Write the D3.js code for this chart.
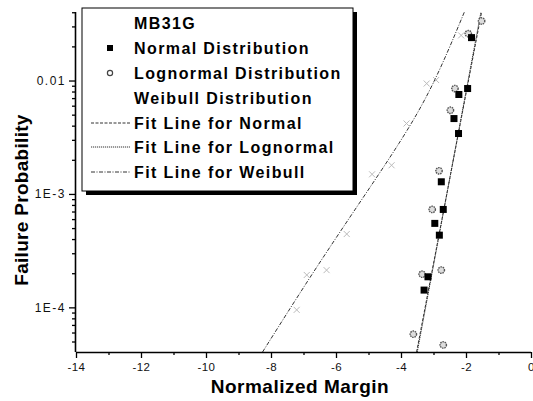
<!DOCTYPE html>
<html><head><meta charset="utf-8">
<script src="https://cdn.jsdelivr.net/npm/d3@7/dist/d3.min.js"></script>
<style>
html,body{margin:0;padding:0;background:#fff;}
svg{display:block;font-family:"Liberation Sans",Arial,sans-serif;}
</style></head>
<body><svg id="chart" width="533" height="401"></svg>
<script>
// ---- data ----
const chartTitle = "MB31G";
const xTicks = [-14, -12, -10, -8, -6, -4, -2, 0];
const xMinorTicks = [-13, -11, -9, -7, -5, -3, -1];
const yTicks = [1e-4, 1e-3, 1e-2];
const yTickLabels = ["1E-4", "1E-3", "0.01"];
const legendLabels = ["Normal Distribution", "Lognormal Distribution", "Weibull Distribution",
  "Fit Line for Normal", "Fit Line for Lognormal", "Fit Line for Weibull"];

// Normal distribution points [margin, failure probability]
const normalX = [-1.83, -1.95, -2.22, -2.37, -2.23, -2.76, -2.70, -2.96, -2.82, -3.17, -3.29];
const normalP = [0.0239, 0.0085, 0.00753, 0.00462, 0.00341, 0.00128, 7.3e-4, 5.5e-4, 4.33e-4, 1.86e-4, 1.42e-4];
// Lognormal distribution points
const lognormX = [-1.52, -1.93, -2.34, -2.48, -2.83, -3.04, -2.76, -3.35, -3.62, -2.70];
const lognormP = [0.0335, 0.0259, 0.0085, 0.00547, 0.0016, 7.3e-4, 2.13e-4, 1.96e-4, 5.8e-5, 4.66e-5];
// Weibull distribution points (faint)
const weibullX = [-2.15, -2.92, -3.21, -3.83, -4.29, -4.89, -5.67, -6.29, -6.90, -7.21];
const weibullP = [0.025, 0.0101, 0.00941, 0.00418, 0.00179, 0.00149, 4.43e-4, 2.13e-4, 1.93e-4, 9.5e-5];
// Fit lines
const fitNormalX = [-3.52, -1.52];
const fitNormalP = [4.04e-5, 0.0402];
const fitLognormX = [-3.50, -1.54];
const fitLognormP = [4.04e-5, 0.0402];
const fitWeibullX = [-8.26, -6.80, -5.36, -4.00, -3.01, -2.05];
const fitWeibullP = [4.04e-5, 1.86e-4, 7.7e-4, 2.9e-3, 8.8e-3, 0.0402];

// ---- layout ----
const L = 76, R = 531, T = 12, B = 352;
const svg = d3.select("#chart");
const x = d3.scaleLinear().domain([-14, 0]).range([L, R]);
const y = d3.scaleLog().domain([4.04e-5, 0.0402]).range([B, T]);

const defs = svg.append("defs");
defs.append("clipPath").attr("id", "clip").append("rect")
  .attr("x", L).attr("y", T - 2).attr("width", R - L + 2).attr("height", B - T + 2);

const lineColor = "#333";
const styles = {
  normal: {dash: "3,1.5", w: 1},
  lognorm: {dash: "1.2,0.8", w: 1},
  weibull: {dash: "4,1.5,1,1.5", w: 1}
};

const plot = svg.append("g").attr("clip-path", "url(#clip)");
function fit(xs, ps, st, curve) {
  const line = d3.line().x(d => x(d[0])).y(d => y(d[1])).curve(curve || d3.curveLinear);
  plot.append("path").datum(xs.map((v, i) => [v, ps[i]]))
    .attr("d", line).attr("fill", "none").attr("stroke", lineColor)
    .attr("stroke-width", st.w).attr("stroke-dasharray", st.dash);
}
fit(fitWeibullX, fitWeibullP, styles.weibull, d3.curveBasis);
fit(fitNormalX, fitNormalP, styles.normal);
fit(fitLognormX, fitLognormP, styles.lognorm);

// Weibull points (faint crosses)
const wpts = weibullX.map((v, i) => [v, weibullP[i]]);
plot.selectAll(".wp").data(wpts).enter().append("path")
  .attr("transform", d => `translate(${x(d[0])},${y(d[1])})`)
  .attr("d", "M-3,-3L3,3M-3,3L3,-3")
  .attr("stroke", "#bbb").attr("stroke-width", 1).attr("fill", "none");

// Lognormal circles
const lpts = lognormX.map((v, i) => [v, lognormP[i]]);
plot.selectAll(".lp").data(lpts).enter().append("circle")
  .attr("cx", d => x(d[0])).attr("cy", d => y(d[1])).attr("r", 3.2)
  .attr("fill", "#ddd").attr("stroke", "#555").attr("stroke-width", 1.4)
  .attr("stroke-dasharray", "1.5,0.8");

// Normal squares
const npts = normalX.map((v, i) => [v, normalP[i]]);
plot.selectAll(".np").data(npts).enter().append("rect")
  .attr("x", d => x(d[0]) - 3.5).attr("y", d => y(d[1]) - 3.5)
  .attr("width", 7).attr("height", 7).attr("fill", "#000");

// ---- axes ----
const xAxis = svg.append("g").attr("transform", `translate(0,${B})`)
  .call(d3.axisBottom(x).tickValues(xTicks).tickSize(6).tickPadding(5).tickFormat(d => String(d)));
svg.append("g").attr("transform", `translate(0,${B})`)
  .call(d3.axisBottom(x).tickValues(xMinorTicks).tickSize(3).tickFormat(""))
  .select(".domain").remove();

const yMinor = [];
for (let e = -5; e <= -2; e++) for (let m = 2; m <= 9; m++) {
  const v = m * Math.pow(10, e);
  if (v >= 4.04e-5 && v <= 0.0402) yMinor.push(v);
}
const yAxis = svg.append("g").attr("transform", `translate(${L},0)`)
  .call(d3.axisLeft(y).tickValues(yTicks).tickSize(7).tickPadding(3)
    .tickFormat((d, i) => yTickLabels[i]));
svg.append("g").attr("transform", `translate(${L},0)`)
  .call(d3.axisLeft(y).tickValues(yMinor).tickSize(4).tickFormat(""))
  .select(".domain").remove();

svg.selectAll(".tick line").attr("stroke", "#000").attr("stroke-width", 1.3);
svg.selectAll(".domain").attr("stroke", "#000").attr("stroke-width", 1.6);
xAxis.select(".domain").attr("d", `M${L},0.5H${R}`);
yAxis.select(".domain").attr("d", `M-0.5,${T}V${B}`);
svg.selectAll(".tick text").attr("fill", "#111")
  .attr("font-family", "'Liberation Sans',Arial,sans-serif");
xAxis.selectAll(".tick text").attr("font-size", "11.5px").attr("letter-spacing", "0.4px");
yAxis.selectAll(".tick text").attr("font-size", "12px").attr("letter-spacing", "1.5px");

// axis titles
svg.append("text").attr("x", 300).attr("y", 393)
  .attr("text-anchor", "middle").attr("font-weight", "bold").attr("font-size", "19px")
  .attr("letter-spacing", "0.5px").text("Normalized Margin");
svg.append("text").attr("transform", `translate(28,200) rotate(-90)`)
  .attr("text-anchor", "middle").attr("font-weight", "bold").attr("font-size", "19px")
  .attr("letter-spacing", "0.3px").text("Failure Probability");

// ---- legend ----
const lg = svg.append("g");
const lx = 82, ly = 8, lw = 271, lh = 183;
lg.append("rect").attr("x", lx + 4).attr("y", ly + 4).attr("width", lw).attr("height", lh).attr("fill", "#000");
lg.append("rect").attr("x", lx).attr("y", ly).attr("width", lw).attr("height", lh)
  .attr("fill", "#fff").attr("stroke", "#000").attr("stroke-width", 1);
const rowY = [23, 48, 73, 98, 123, 147, 172];
const textX = 134;
const legendFont = {size: "16px", spacing: "1.4px"};
lg.append("text").attr("x", textX).attr("y", rowY[0] + 6).attr("font-weight", "bold")
  .attr("font-size", legendFont.size).attr("letter-spacing", legendFont.spacing).text(chartTitle);
legendLabels.forEach((t, i) => {
  lg.append("text").attr("x", textX).attr("y", rowY[i + 1] + 6).attr("font-weight", "bold")
    .attr("font-size", legendFont.size).attr("letter-spacing", legendFont.spacing).text(t);
});
lg.append("rect").attr("x", 110 - 3).attr("y", rowY[1] - 3).attr("width", 6).attr("height", 6).attr("fill", "#000");
lg.append("circle").attr("cx", 110).attr("cy", rowY[2]).attr("r", 2.6)
  .attr("fill", "#fff").attr("stroke", "#444").attr("stroke-width", 1.2);
const lstyles = [styles.normal, styles.lognorm, styles.weibull];
lstyles.forEach((st, i) => {
  lg.append("line").attr("x1", 91).attr("x2", 130).attr("y1", rowY[4 + i]).attr("y2", rowY[4 + i])
    .attr("stroke", lineColor).attr("stroke-width", st.w).attr("stroke-dasharray", st.dash);
});
</script>
</body></html>
